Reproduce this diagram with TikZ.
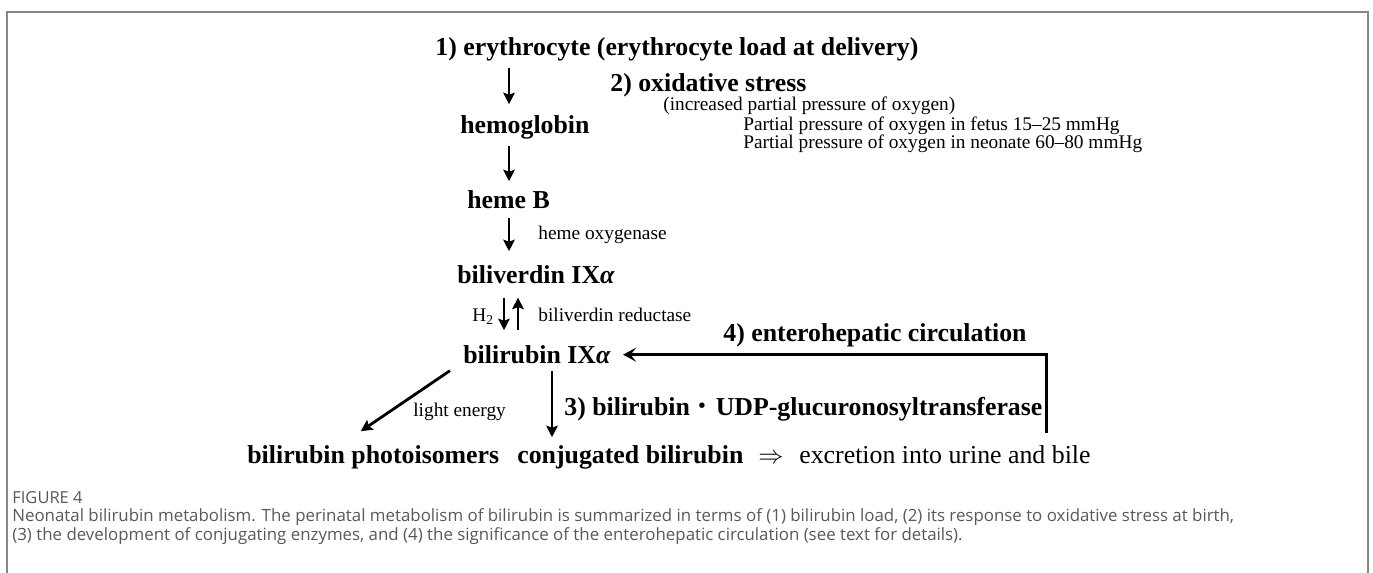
\documentclass[tikz,border=0pt]{standalone}
\usepackage{fontspec}
\setmainfont{Liberation Serif}
\newfontfamily\capfont{Open Sans}
\newfontfamily\cjk{Noto Sans CJK JP}
\usetikzlibrary{arrows.meta, positioning}
\definecolor{framegray}{RGB}{135, 135, 135}
\definecolor{captiongray}{RGB}{88, 88, 88}

\begin{document}
\begin{tikzpicture}[
    x=0.02cm, y=-0.02cm,
    metab/.style={inner sep=0pt, anchor=base west, font=\fontsize{14.7}{17}\selectfont\bfseries},
    enzyme/.style={inner sep=0pt, anchor=base west, font=\fontsize{11}{13}\selectfont},
    caption/.style={inner sep=0pt, anchor=base west, font=\capfont\fontsize{9.6}{11}\selectfont, text=captiongray},
    arrow/.style={-{Stealth[length=2.3mm, width=2.3mm, inset=0.4mm]}, line width=1.6pt},
]
\useasboundingbox (0,0) rectangle (1373,573);

% outer frame (open at the bottom)
\draw[framegray, line width=0.85pt] (7,600) -- (7,12) -- (1368,12) -- (1368,600);

% metabolites down the main column
\node[metab] (ery) at (435,56) {1) erythrocyte (erythrocyte load at delivery)};
\node[metab] (hgb) at (460,133.5) {hemoglobin};
\node[metab] (hemeb) at (467,208.5) {heme B};
\node[metab] (bv) at (457,283.5) {biliverdin IX\textit{α}};
\node[metab] (br) at (463,363.5) {bilirubin IX\textit{α}};
\node[metab] (photo) at (247,463.5) {bilirubin photoisomers};
\node[metab] (conj) at (517,463.5) {conjugated bilirubin};
\node[inner sep=0pt, anchor=base west, font=\fontsize{14.7}{17}\selectfont] (implies) at (758,463.5) {$\Rightarrow$};
\node[inner sep=0pt, anchor=base west, font=\fontsize{14.7}{17}\selectfont] (excr) at (799,463.5) {excretion into urine and bile};

% oxidative stress
\node[metab] (oxi) at (610,91.5) {2) oxidative stress};
\node[enzyme] (incr) at (663,110.5) {(increased partial pressure of oxygen)};
\node[enzyme] (fetus) at (743,131) {Partial pressure of oxygen in fetus 15–25 mmHg};
\node[enzyme] (neo) at (743,149) {Partial pressure of oxygen in neonate 60–80 mmHg};

% enzymes and other labels
\node[enzyme] (ho) at (538,239.5) {heme oxygenase};
\node[enzyme] (h2) at (472,321.5) {H\textsubscript{2}};
\node[enzyme] (bvr) at (538,321.5) {biliverdin reductase};
\node[metab] (ehc) at (723,341.5) {4) enterohepatic circulation};
\node[enzyme] (light) at (413,416.5) {light energy};
\node[metab] (ugt) at (564,415.5) {3) bilirubin{\cjk\mdseries ・}UDP-glucuronosyltransferase};

\coordinate (col) at (509,0);
\coordinate (dn) at (504,0);
\coordinate (up) at (518,0);
\coordinate (cj) at (552,0);

% arrows
\draw[arrow, shorten <=0.12cm, shorten >=0.22cm] (ery.south -| col) -- (hgb.north -| col);
\draw[arrow, shorten <=0.12cm, shorten >=0.18cm] (hgb.south -| col) -- (hemeb.north -| col);
\draw[arrow, shorten <=0.17cm, shorten >=0.28cm] (hemeb.south -| col) -- (bv.north -| col);
\draw[arrow, shorten <=0.27cm, shorten >=0.3cm] (bv.south -| dn) -- (br.north -| dn);
\draw[arrow, shorten <=0.3cm, shorten >=0.27cm] (br.north -| up) -- (bv.south -| up);
\draw[arrow, shorten <=0.13cm, shorten >=0.16cm] (br.south -| cj) -- (conj.north -| cj);
\draw[arrow] ([xshift=-0.26cm, yshift=-0.13cm]br.south west) -- ([xshift=-0.25cm, yshift=0.28cm]photo.north);
\draw[arrow, shorten >=0.24cm, -{Stealth[length=2.6mm, width=2.8mm, inset=1.1mm]}] ([xshift=0.08cm, yshift=-0.22cm]ugt.south east) |- (br.east);

% caption
\node[caption, font=\capfont\fontsize{9.4}{11}\selectfont] (fig) at (12,504) {FIGURE 4};
\node[caption] (cap1) at (12,522) {Neonatal bilirubin metabolism. The perinatal metabolism of bilirubin is summarized in terms of (1) bilirubin load, (2) its response to oxidative stress at birth,};
\node[caption] (cap2) at (12,541) {(3) the development of conjugating enzymes, and (4) the significance of the enterohepatic circulation (see text for details).};

\end{tikzpicture}
\end{document}
